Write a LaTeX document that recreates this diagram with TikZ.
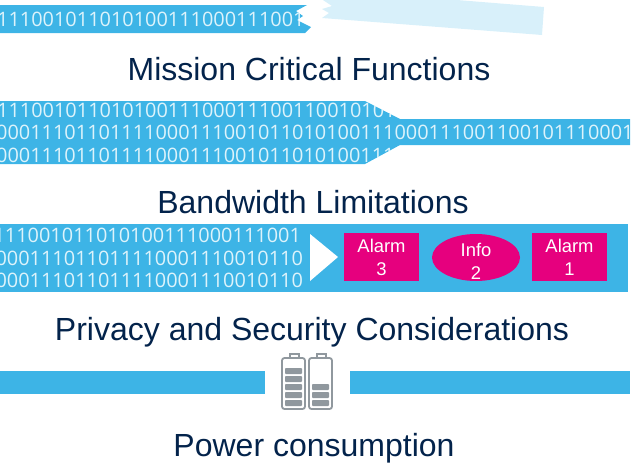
\documentclass[tikz,border=0pt]{standalone}
\usepackage{fontspec}
\setmainfont{Liberation Sans}
\newfontfamily\binaryfont{Open Sans}
\usetikzlibrary{shapes.geometric}
\definecolor{bandblue}{HTML}{3DB4E6}
\definecolor{fadedblue}{HTML}{D8F0FA}
\definecolor{digitlight}{HTML}{DDF3FB}
\definecolor{alarmpink}{HTML}{E6007E}
\definecolor{titlenavy}{HTML}{03234B}
\definecolor{cellgray}{HTML}{90989E}
\tikzset{
    titletext/.style={font=\fontsize{32}{34}\selectfont, text=titlenavy, anchor=base, inner sep=0pt},
    binarytext/.style={font=\binaryfont\fontsize{19.9}{21}\selectfont, text=digitlight, anchor=base west, inner sep=0pt},
    alarmtext/.style={font=\fontsize{18.4}{20}\selectfont, text=white, anchor=base, inner sep=0pt},
    alarmbox/.style={fill=alarmpink},
    cellbar/.style={fill=cellgray, rounded corners=0.8pt},
    batteryshell/.style={draw=cellgray, line width=1.8pt, rounded corners=2.5pt}
}
\begin{document}
\begin{tikzpicture}[x=1pt, y=-1pt]
    \useasboundingbox (0,0) rectangle (641,469);

    % === TORN BAND ===
    \fill[fadedblue] (323,0) -- (332,6) -- (322,9) -- (329,13) -- (322,18) -- (542,35) -- (544,7) -- (457,0) -- cycle;
    \begin{scope}
        \fill[bandblue] (0,5) -- (307,5) -- (296,11) -- (303,16) -- (297,20) -- (311,27) -- (305,33) -- (0,33) -- cycle;
        \clip (0,5) -- (307,5) -- (296,11) -- (303,16) -- (297,20) -- (311,27) -- (305,33) -- (0,33) -- cycle;
        \node[binarytext] (tornbits) at (-3,26) {11100101101010011100011100110010};
    \end{scope}
    \node[titletext] (missiontitle) at (309,80) {Mission Critical Functions};

    % === NARROWING BAND ===
    \begin{scope}
        \fill[bandblue] (0,101) -- (365,101) -- (400,119) -- (630,119) -- (630,145) -- (400,145) -- (365,164) -- (0,164) -- cycle;
        \clip (0,101) -- (365,101) -- (400,119) -- (630,119) -- (630,145) -- (400,145) -- (365,164) -- (0,164) -- cycle;
        \node[binarytext] (narrowbitsa) at (-3,117) {1110010110101001110001110011001010101};
        \node[binarytext] (narrowbitsb) at (-4,139) {00011101101111000111001011010100111000111001100101110001};
        \node[binarytext] (narrowbitsc) at (-4,162) {0001110110111100011100101101010011100011};
    \end{scope}
    \node[titletext] (bandwidthtitle) at (313,213) {Bandwidth Limitations};

    % === ALARM QUEUE ===
    \fill[bandblue] (0,224) rectangle (628,292);
    \begin{scope}
        \clip (0,224) rectangle (628,292);
        \node[binarytext, anchor=base east] (queuebitsa) at (301,242) {111001011010100111000111001};
        \node[binarytext, anchor=base east] (queuebitsb) at (303,265) {000111011011110001110010110};
        \node[binarytext, anchor=base east] (queuebitsc) at (303,287) {000111011011110001110010110};
    \end{scope}
    \fill[white] (310,234) -- (338,257) -- (310,281) -- cycle;

    \fill[alarmbox] (344,233) rectangle (419,281);
    \node[alarmtext] (alarmthreea) at (381.5,252) {Alarm};
    \node[alarmtext] (alarmthreeb) at (381.5,275) {3};
    \fill[alarmbox] (476,257.5) ellipse (44 and 23.5);
    \node[alarmtext] (infotwoa) at (476,256) {Info};
    \node[alarmtext] (infotwob) at (476,279) {2};
    \fill[alarmbox] (532,233) rectangle (607,281);
    \node[alarmtext] (alarmonea) at (569.5,252) {Alarm};
    \node[alarmtext] (alarmoneb) at (569.5,275) {1};
    \node[titletext] (privacytitle) at (312,340) {Privacy and Security Considerations};

    % === POWER BAND ===
    \fill[bandblue] (0,371) rectangle (265,394);
    \fill[bandblue] (350,371) rectangle (630,394);

    % full battery
    \draw[batteryshell] (282,358) rectangle (305,409);
    \draw[cellgray, line width=1.6pt] (290,358) -- (290,354) -- (299,354) -- (299,358);
    \foreach \y in {368,376,384,392,400} {
        \fill[cellbar] (285,\y) rectangle (302,\y+6);
    }
    % half battery
    \draw[batteryshell] (309,358) rectangle (332,409);
    \draw[cellgray, line width=1.6pt] (317,358) -- (317,354) -- (326,354) -- (326,358);
    \foreach \y in {384,392,400} {
        \fill[cellbar] (312,\y) rectangle (329,\y+6);
    }
    \node[titletext] (powertitle) at (314,456) {Power consumption};
\end{tikzpicture}
\end{document}
